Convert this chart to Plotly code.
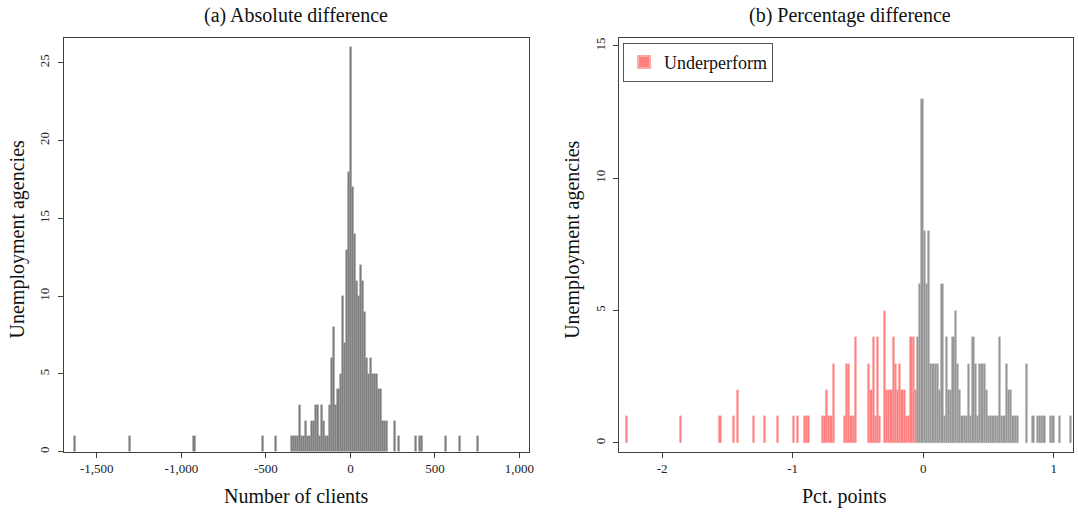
import plotly.graph_objects as go

# ---------------- Panel (a): absolute difference (number of clients) ----------------
abs_bin_width = 12
abs_bin_centers = [
    -1632, -1308, -924, -516, -444,
    -348, -336, -324, -312, -300, -288, -276, -264, -252, -240, -228, -216, -204,
    -192, -180, -168, -156, -144, -132, -120, -108, -96, -84, -72, -60, -48, -36,
    -24, -12, 0,
    12, 24, 36, 48, 60, 72, 84, 96, 108, 120, 132, 144, 156, 168, 180, 192, 204, 216,
    264, 288, 384, 408, 420, 564, 648, 756,
]
abs_counts = [
    1, 1, 1, 1, 1,
    1, 1, 1, 1, 3, 1, 1, 2, 1, 1, 2, 2, 3,
    3, 1, 3, 2, 1, 1, 3, 6, 8, 3, 4, 5, 10, 7,
    13, 18, 26,
    17, 14, 11, 10, 12, 11, 9, 6, 5, 6, 5, 5, 5, 4, 4, 2, 2, 2,
    2, 1, 1, 1, 1, 1, 1, 1,
]
abs_xticks = [-1500, -1000, -500, 0, 500, 1000]
abs_xticklabels = ["-1,500", "-1,000", "-500", "0", "500", "1,000"]
abs_yticks = [0, 5, 10, 15, 20, 25]

# ---------------- Panel (b): percentage difference (pct. points) ----------------
pct_bin_width = 0.017
pct_under_centers = [
    -2.269, -1.861, -1.555, -1.453, -1.419, -1.300, -1.215, -1.113, -0.994, -0.960,
    -0.909, -0.892, -0.875, -0.773, -0.756, -0.739, -0.722, -0.705, -0.688,
    -0.603, -0.586, -0.569, -0.552, -0.535, -0.518,
    -0.416, -0.399, -0.382, -0.365, -0.348, -0.331, -0.297, -0.280, -0.263, -0.246,
    -0.229, -0.212, -0.195, -0.178, -0.161, -0.144, -0.127, -0.110, -0.093, -0.076, -0.059,
]
pct_under_counts = [
    1, 1, 1, 1, 2, 1, 1, 1, 1, 1,
    1, 1, 1, 1, 1, 2, 1, 1, 3,
    1, 3, 3, 1, 1, 4,
    3, 2, 4, 1, 4, 1, 5, 2, 2, 2,
    4, 3, 2, 3, 2, 2, 1, 1, 4, 4, 2,
]
pct_other_centers = [
    -0.042, -0.025, -0.008, 0.009, 0.026, 0.043, 0.060, 0.077, 0.094, 0.111,
    0.128, 0.145, 0.162, 0.179, 0.196, 0.213, 0.230, 0.247, 0.264, 0.281,
    0.298, 0.315, 0.332, 0.349, 0.366, 0.383, 0.400, 0.417, 0.434, 0.451,
    0.468, 0.485, 0.502, 0.519, 0.536, 0.553, 0.570, 0.587, 0.604, 0.621,
    0.638, 0.655, 0.672, 0.689, 0.706, 0.723, 0.791, 0.842, 0.876, 0.893,
    0.910, 0.927, 0.978, 0.995, 1.046, 1.131,
]
pct_other_counts = [
    4, 6, 13, 8, 6, 8, 3, 3, 3, 3,
    2, 6, 1, 4, 2, 2, 4, 5, 3, 2,
    1, 1, 1, 3, 1, 4, 3, 1, 3, 3,
    3, 2, 1, 1, 1, 1, 1, 4, 1, 1,
    3, 2, 2, 1, 1, 1, 3, 1, 1, 1,
    1, 1, 1, 1, 1, 1,
]
pct_xticks = [-2, -1, 0, 1]
pct_xticklabels = ["-2", "-1", "0", "1"]
pct_yticks = [0, 5, 10, 15]

# ---------------- Figure ----------------
W, H = 1078, 512
FONT = "Liberation Serif"
AX = "#404040"

fig = go.Figure()
fig.add_trace(go.Bar(
    x=abs_bin_centers, y=abs_counts, width=abs_bin_width,
    marker=dict(color="#7e7e7e", line=dict(color="#969696", width=0.3)),
    xaxis="x", yaxis="y", showlegend=False, name="Agencies",
))
fig.add_trace(go.Bar(
    x=pct_under_centers, y=pct_under_counts, width=pct_bin_width,
    marker=dict(color="#ff7f7f", line=dict(color="#ffa8a8", width=0.3)),
    xaxis="x2", yaxis="y2", showlegend=True, name="Underperform",
))
fig.add_trace(go.Bar(
    x=pct_other_centers, y=pct_other_counts, width=pct_bin_width,
    marker=dict(color="#969696", line=dict(color="#b4b4b4", width=0.3)),
    xaxis="x2", yaxis="y2", showlegend=False, name="Other",
))

def px(x):
    return x / W

def py(y):
    return 1 - y / H

common_axis = dict(
    showline=True, linecolor=AX, linewidth=1, mirror=True,
    ticks="outside", ticklen=5, tickcolor=AX, tickwidth=1,
    showgrid=False, zeroline=False,
    tickfont=dict(family=FONT, size=13, color="#222"),
)

ydom = [py(452.5), py(38)]
fig.update_layout(
    width=W, height=H,
    margin=dict(l=0, r=0, t=0, b=0),
    paper_bgcolor="white", plot_bgcolor="white",
    font=dict(family=FONT, size=13, color="#111"),
    barmode="overlay", bargap=0,
    xaxis=dict(domain=[px(64), px(531)], range=[-1696, 1054], anchor="y",
               tickmode="array", tickvals=abs_xticks, ticktext=abs_xticklabels, **common_axis),
    yaxis=dict(domain=ydom, range=[0, 26.6], anchor="x", ticklabelstandoff=4,
               tickmode="array", tickvals=abs_yticks, tickangle=-90, **common_axis),
    xaxis2=dict(domain=[px(621.5), 1.0], range=[-2.333, 1.148], anchor="y2",
                tickmode="array", tickvals=pct_xticks, ticktext=pct_xticklabels, **common_axis),
    yaxis2=dict(domain=ydom, range=[-0.33, 15.3], anchor="x2", ticklabelstandoff=2,
                tickmode="array", tickvals=pct_yticks, tickangle=-90, **common_axis),
    legend=dict(x=px(626), y=py(43), xanchor="left", yanchor="top",
                bgcolor="white", bordercolor="#555", borderwidth=1,
                font=dict(family=FONT, size=18, color="#111"),
                itemsizing="constant"),
    showlegend=True,
)

ann_font = dict(family=FONT, size=20, color="#111")
annotations = [
    dict(text="(a) Absolute difference", x=px(297.5), y=py(16), xref="paper", yref="paper",
         showarrow=False, font=ann_font, xanchor="center", yanchor="middle"),
    dict(text="(b) Percentage difference", x=px(854), y=py(16), xref="paper", yref="paper",
         showarrow=False, font=ann_font, xanchor="center", yanchor="middle"),
    dict(text="Number of clients", x=px(298), y=py(497), xref="paper", yref="paper",
         showarrow=False, font=ann_font, xanchor="center", yanchor="middle"),
    dict(text="Pct. points", x=px(848), y=py(497), xref="paper", yref="paper",
         showarrow=False, font=ann_font, xanchor="center", yanchor="middle"),
    dict(text="Unemployment agencies", x=px(18), y=py(240), xref="paper", yref="paper",
         showarrow=False, font=ann_font, textangle=-90, xanchor="center", yanchor="middle"),
    dict(text="Unemployment agencies", x=px(575), y=py(240), xref="paper", yref="paper",
         showarrow=False, font=ann_font, textangle=-90, xanchor="center", yanchor="middle"),
]
fig.update_layout(annotations=annotations)

fig.write_html("out.html", config={"displayModeBar": False},
               post_script="document.body.style.margin='0px';")
